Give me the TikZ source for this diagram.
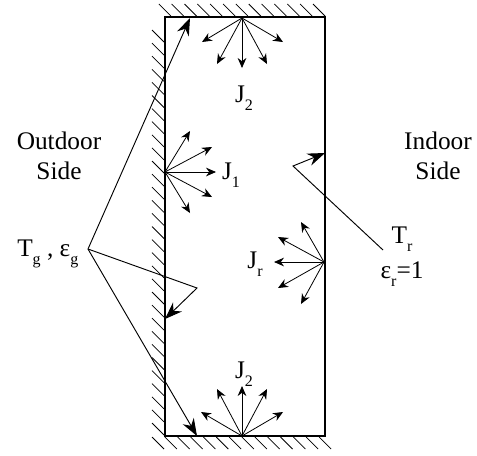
\documentclass[tikz,border=0pt]{standalone}
\usepackage{fontspec}
\setmainfont{Liberation Serif}
\usetikzlibrary{arrows.meta}
\newcommand{\low}[1]{\raisebox{-0.7ex}{\fontsize{12}{14}\selectfont #1}}
\tikzset{
    wall/.style={line width=1.6pt},
    hatch/.style={line width=0.55pt},
    ray/.style={line width=0.6pt, -{Stealth[length=7.5pt,width=6.5pt]}},
    bigray/.style={line width=0.7pt, -{Stealth[length=13pt,width=9.5pt]}},
    txt/.style={font=\fontsize{19}{22.5}\selectfont, inner sep=2pt, align=center}
}
\begin{document}
\begin{tikzpicture}[x=0.75pt, y=-0.75pt]
\useasboundingbox (0,0) rectangle (477,455);

% Wall hatching
\foreach \k in {0,...,12} {
    \draw[hatch] ({325-12.85*\k},16) -- ++(-12,-12);
}
\foreach \k in {0,...,30} {
    \draw[hatch] (164,{435-13.1*\k}) -- ++(-12,-12);
}
\foreach \k in {0,...,13} {
    \draw[hatch] ({152+12.85*\k},437) -- ++(12,12);
}

% Room outline
\draw[wall] (165,17) rectangle (325,436);

% Emission points
\coordinate (topSrc) at (242,18);
\coordinate (leftSrc) at (165,172);
\coordinate (rightSrc) at (324,262);
\coordinate (botSrc) at (242,436);

% Top fan
\foreach \x/\y [count=\i] in {202/42, 217/64, 242/68, 267/64, 283/42} {
    \coordinate (topTip\i) at (\x,\y);
    \draw[ray] (topSrc) -- (topTip\i);
}
% Left fan
\foreach \x/\y [count=\i] in {190/131, 212/147, 216/172, 212/197, 190/213} {
    \coordinate (leftTip\i) at (\x,\y);
    \draw[ray] (leftSrc) -- (leftTip\i);
}
% Right fan
\foreach \x/\y [count=\i] in {301/222, 278/237, 274/262, 278/288, 301/304} {
    \coordinate (rightTip\i) at (\x,\y);
    \draw[ray] (rightSrc) -- (rightTip\i);
}
% Bottom fan
\foreach \x/\y [count=\i] in {201/412, 217/389, 242/386, 267/389, 283/412} {
    \coordinate (botTip\i) at (\x,\y);
    \draw[ray] (botSrc) -- (botTip\i);
}

% Labels
\node[txt] (outdoor) at (59,156) {Outdoor\\Side};
\node[txt] (indoor) at (438,156) {Indoor\\Side};
\node[txt, anchor=base] (jTop) at (244,102) {J\low{2}};
\node[txt, anchor=base] (jLeft) at (231,179) {J\low{1}};
\node[txt, anchor=base] (jRight) at (255,268) {J\low{r}};
\node[txt, anchor=base] (jBot) at (244,378) {J\low{2}};
\node[txt, anchor=base west, inner sep=0pt] (tg) at (17,256) {T\low{g} , ε\low{g}};
\node[txt, anchor=base] (tr) at (402,243) {T\low{r}};
\node[txt, anchor=base] (er) at (402,278) {ε\low{r}=1};

% Leaders
\coordinate (tgApex) at (88,249);
\coordinate (tgTop) at (190,18);
\coordinate (tgBend) at (197,288);
\coordinate (tgMid) at (165,319);
\coordinate (tgBot) at (197,436);
\coordinate (trStart) at (383,250);
\coordinate (trBend) at (293,166);
\coordinate (trEnd) at (325,153);
\draw[bigray] (tgApex) -- (tgTop);
\draw[bigray] (tgApex) -- (tgBend) -- (tgMid);
\draw[bigray] (tgApex) -- (tgBot);
\draw[bigray] (trStart) -- (trBend) -- (trEnd);
\end{tikzpicture}
\end{document}
